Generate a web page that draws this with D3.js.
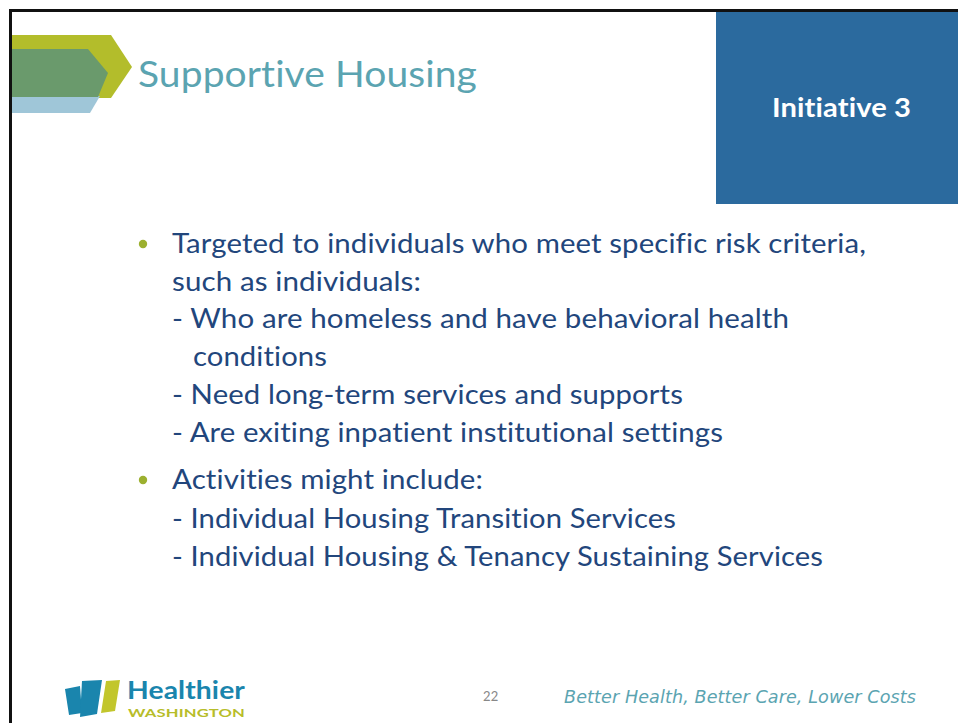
<!DOCTYPE html>
<html>
<head>
<meta charset="utf-8">
<script src="https://cdn.jsdelivr.net/npm/d3@7"></script>
<style>
html,body{margin:0;padding:0;background:#fff;}
svg{display:block;}
svg text{font-variant-ligatures:none;font-feature-settings:"liga" 0,"clig" 0,"calt" 0,"dlig" 0;letter-spacing:0.1px;}
</style>
</head>
<body>
<svg id="slide" width="958" height="723"></svg>
<script>
// ---- content data ----
const titleText = "Supportive Housing";
const badgeText = "Initiative 3";
const bulletLines = [
  {text: "Targeted to individuals who meet specific risk criteria,", bullet: true, indent: 0, w: 694},
  {text: "such as individuals:", bullet: false, indent: 0, w: 249},
  {text: "- Who are homeless and have behavioral health", bullet: false, indent: 0, w: 617},
  {text: "conditions", bullet: false, indent: 1, w: 134},
  {text: "- Need long-term services and supports", bullet: false, indent: 0, w: 511},
  {text: "- Are exiting inpatient institutional settings", bullet: false, indent: 0, w: 551},
  {text: "Activities might include:", bullet: true, indent: 0, w: 311},
  {text: "- Individual Housing Transition Services", bullet: false, indent: 0, w: 504},
  {text: "- Individual Housing & Tenancy Sustaining Services", bullet: false, indent: 0, w: 651}
];
const lineBaselines = [253, 291, 328, 366, 404, 442, 489, 528, 566];
const pageNumber = "22";
const tagline = "Better Health, Better Care, Lower Costs";
const logoWords = ["Healthier", "WASHINGTON"];

const svg = d3.select("#slide");
const font = "Lato, 'Open Sans', sans-serif";

// frame border (top + left)
svg.append("rect").attr("x", 9).attr("y", 9).attr("width", 949).attr("height", 3).attr("fill", "#111");
svg.append("rect").attr("x", 9).attr("y", 9).attr("width", 3).attr("height", 714).attr("fill", "#111");

// header chevrons
const line = d3.line();
svg.append("path").attr("d", line([[12,35],[111,35],[132,67],[111,98],[12,98]]) + "Z").attr("fill", "#b3bd2b");
svg.append("path").attr("d", line([[12,96],[100,96],[90,113],[12,113]]) + "Z").attr("fill", "#9fc6d8");
svg.append("path").attr("d", line([[12,49],[88,49],[108,73],[98,97],[12,97]]) + "Z").attr("fill", "#6a9a6c");

// title
svg.append("text").attr("x", 138).attr("y", 87)
  .attr("font-family", font).attr("font-size", 36).attr("fill", "#5ba4b1")
  .attr("textLength", 339).attr("lengthAdjust", "spacingAndGlyphs")
  .text(titleText);

// initiative badge
svg.append("rect").attr("x", 716).attr("y", 12).attr("width", 242).attr("height", 192).attr("fill", "#2b6a9e");
svg.append("text").attr("x", 772).attr("y", 117)
  .attr("font-family", font).attr("font-weight", "bold").attr("font-size", 27).attr("fill", "#fff")
  .attr("textLength", 139).attr("lengthAdjust", "spacingAndGlyphs")
  .text(badgeText);

// bullet text
const g = svg.append("g");
const rows = g.selectAll("g.row").data(bulletLines).join("g").attr("class", "row")
  .attr("transform", (d, i) => `translate(0,${lineBaselines[i]})`);
rows.filter(d => d.bullet).append("circle").attr("cx", 143).attr("cy", -9).attr("r", 4.2).attr("fill", "#9cb02f");
rows.append("text")
  .attr("x", d => 172 + d.indent * 21)
  .attr("font-family", font).attr("font-size", 27).attr("fill", "#22467c")
  .attr("textLength", d => d.w).attr("lengthAdjust", "spacingAndGlyphs")
  .text(d => d.text);

// footer logo
const logo = svg.append("g");
logo.append("path").attr("d", line([[65,689],[80,686],[82,713],[69,715]]) + "Z").attr("fill", "#1a85ad");
logo.append("path").attr("d", line([[82,681],[102,680],[97,714],[80,717]]) + "Z").attr("fill", "#1a85ad");
logo.append("path").attr("d", line([[106,681],[120,680],[115,711],[101,713]]) + "Z").attr("fill", "#c2c62c");
logo.append("text").attr("x", 127).attr("y", 699)
  .attr("font-family", font).attr("font-weight", "bold").attr("font-size", 24).attr("fill", "#1a85ad")
  .attr("textLength", 118).attr("lengthAdjust", "spacingAndGlyphs").text(logoWords[0]);
logo.append("text").attr("x", 128).attr("y", 717)
  .attr("font-family", font).attr("font-weight", "bold").attr("font-size", 12).attr("fill", "#b7bd2a")
  .attr("textLength", 117).attr("lengthAdjust", "spacingAndGlyphs").text(logoWords[1]);

// page number & tagline
svg.append("text").attr("x", 483).attr("y", 701)
  .attr("font-family", font).attr("font-size", 13).attr("fill", "#888").text(pageNumber);
svg.append("text").attr("x", 564).attr("y", 703)
  .attr("font-family", "'DejaVu Sans', sans-serif").attr("font-style", "italic").attr("font-size", 18).attr("fill", "#5ba4b1")
  .attr("textLength", 352).attr("lengthAdjust", "spacingAndGlyphs").text(tagline);
</script>
</body>
</html>
